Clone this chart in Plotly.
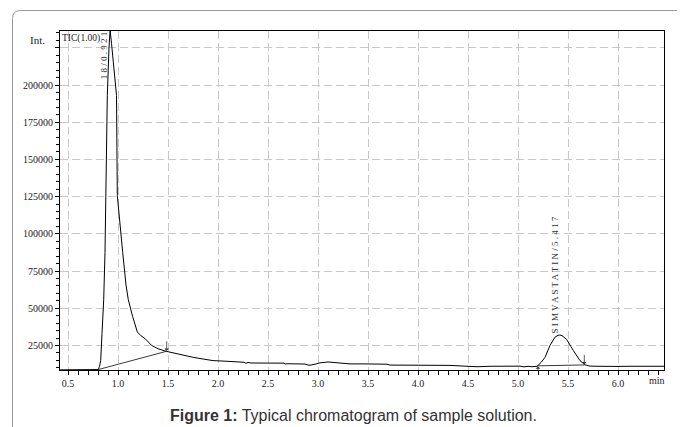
import plotly.graph_objects as go

# ---- data ----
time_min = [0.42, 0.50, 0.60, 0.70, 0.78, 0.803, 0.815, 0.827, 0.84, 0.857, 0.87, 0.88, 0.893,
            0.91, 0.921, 0.935, 0.96, 0.985, 0.993, 1.02, 1.047, 1.08, 1.103, 1.147, 1.193,
            1.23, 1.27, 1.337, 1.40, 1.48, 1.587, 1.70, 1.753, 1.85, 1.95, 2.05, 2.15, 2.22,
            2.26, 2.28, 2.30, 2.33, 2.40, 2.50, 2.60, 2.66, 2.67, 2.69, 2.80, 2.87, 2.90, 2.92,
            2.97, 3.02, 3.10, 3.18, 3.25, 3.32, 3.45, 3.60, 3.69, 3.72, 3.90, 4.10, 4.32, 4.52,
            4.60, 4.72, 4.90, 5.02, 5.06, 5.10, 5.14, 5.19, 5.23, 5.27, 5.32, 5.37, 5.40, 5.417,
            5.44, 5.487, 5.553, 5.62, 5.67, 5.72, 5.80, 5.90, 6.00, 6.10, 6.20, 6.30, 6.46]
intensity = [8600, 8700, 8600, 8700, 8700, 8800, 11000, 14800, 33000, 55700, 87500, 125800, 193000,
             225000, 237000, 228000, 212000, 193000, 125800, 105000, 87500, 65600, 55700, 44300, 34100,
             31500, 29600, 25000, 22800, 21100, 19300, 17700, 17000, 15900, 14800, 14500, 14200, 14100,
             13700, 13000, 13600, 13200, 13200, 13200, 13200, 13100, 12500, 12700, 12600, 12500, 11800, 11700,
             12400, 13300, 13900, 13500, 13000, 12600, 12600, 12500, 12400, 11800, 11700, 11600, 11600, 10900,
             10700, 11000, 11100, 11100, 10600, 11000, 10700, 11000, 13500, 17000, 25000, 30600, 31800, 32000,
             31600, 29000, 21600, 14800, 12000, 11100, 11000, 11200, 10900, 11000, 10900, 11000, 11000]

# integration baselines (start / end of each peak)
base1_t = [0.803, 1.487]
base1_v = [8800, 21100]
base2_t = [5.19, 5.665]
base2_v = [11300, 11900]

# peak labels
peak_labels = ["1 8 / 0 . 9 2 1", "S I M V A S T A T I N / 5 . 4 1 7"]
peak_label_t = [0.86, 5.375]
peak_label_v = [220000, 72300]

x_tickvals = [0.5, 1.0, 1.5, 2.0, 2.5, 3.0, 3.5, 4.0, 4.5, 5.0, 5.5, 6.0]
x_ticktext = ["0.5", "1.0", "1.5", "2.0", "2.5", "3.0", "3.5", "4.0", "4.5", "5.0", "5.5", "6.0"]
y_tickvals = [25000, 50000, 75000, 100000, 125000, 150000, 175000, 200000, 225000]
y_ticktext = ["25000", "50000", "75000", "100000", "125000", "150000", "175000", "200000", ""]

SERIF = "Liberation Serif"

fig = go.Figure()
fig.add_trace(go.Scatter(x=time_min, y=intensity, mode="lines",
                         line=dict(color="black", width=1), hoverinfo="skip"))
fig.add_trace(go.Scatter(x=base1_t, y=base1_v, mode="lines",
                         line=dict(color="#222", width=0.9), hoverinfo="skip"))
fig.add_trace(go.Scatter(x=base2_t, y=base2_v, mode="lines",
                         line=dict(color="#222", width=0.9), hoverinfo="skip"))

# the page body has an 8px margin, so the figure is placed at (8, 8)
OFF = 8
W, H = 685 - OFF, 427 - OFF
L, T = 60 - OFF, 31 - OFF
R = W - (664 - OFF)
B = H - (370 - OFF)
pw, ph = W - L - R, H - T - B

def px_x(p):
    return (p - OFF - L) / pw

def px_y(p):
    return (H - B - (p - OFF)) / ph

annotations = []
# peak labels (rotated)
for txt, t, v in zip(peak_labels, peak_label_t, peak_label_v):
    annotations.append(dict(x=t, y=v, xref="x", yref="y", text=txt, textangle=-90,
                            showarrow=False, font=dict(family=SERIF, size=9, color="#333"),
                            xanchor="center", yanchor="middle"))
# arrows marking peak start/end
annotations.append(dict(x=1.487, y=21400, xref="x", yref="y", ax=0, ay=-11, text="",
                        showarrow=True, arrowhead=1, arrowsize=1, arrowwidth=0.8, arrowcolor="#333"))
annotations.append(dict(x=5.663, y=12300, xref="x", yref="y", ax=0, ay=-11, text="",
                        showarrow=True, arrowhead=1, arrowsize=1, arrowwidth=0.8, arrowcolor="#333"))
annotations.append(dict(x=5.2, y=10900, xref="x", yref="y", ax=0, ay=6, text="",
                        showarrow=True, arrowhead=1, arrowsize=1, arrowwidth=0.8, arrowcolor="#333"))
# texts
annotations.append(dict(x=0.0, y=1.0, xref="paper", yref="paper", text="TIC(1.00)",
                        showarrow=False, xanchor="left", yanchor="top",
                        font=dict(family=SERIF, size=9.5, color="#222")))
annotations.append(dict(x=px_x(37), y=px_y(40), xref="paper", yref="paper", text="Int.",
                        showarrow=False, xanchor="center", yanchor="middle",
                        font=dict(family=SERIF, size=11, color="#222")))
annotations.append(dict(x=px_x(657), y=px_y(380), xref="paper", yref="paper", text="min",
                        showarrow=False, xanchor="center", yanchor="middle",
                        font=dict(family=SERIF, size=10, color="#222")))
annotations.append(dict(x=px_x(353), y=px_y(415), xref="paper", yref="paper",
                        text="<b>Figure 1:</b> Typical chromatogram of sample solution.",
                        showarrow=False, xanchor="center", yanchor="middle",
                        font=dict(family="Liberation Sans", size=16, color="#333")))

# outer rounded frame (top-left corner visible)
lx, ty = px_x(12.5), px_y(10.5)
rx, ry = 8 / pw, 8 / ph
frame_path = (f"M {lx},{px_y(440)} L {lx},{ty - ry} Q {lx},{ty} {lx + rx},{ty} "
              f"L {px_x(700)},{ty}")

fig.update_layout(
    width=W, height=H,
    margin=dict(l=L, r=R, t=T, b=B),
    paper_bgcolor="white", plot_bgcolor="white",
    showlegend=False,
    font=dict(family=SERIF, size=10, color="#222"),
    annotations=annotations,
    shapes=[dict(type="path", path=frame_path, xref="paper", yref="paper",
                 line=dict(color="#9a9a9a", width=1), layer="below")],
    xaxis=dict(range=[0.42, 6.46], tickmode="array", tickvals=x_tickvals, ticktext=x_ticktext,
               showline=True, mirror=True, linecolor="black", linewidth=1,
               ticks="outside", ticklen=4, tickcolor="black",
               showgrid=True, gridcolor="#c8c8c8", griddash="8px,4px", gridwidth=1,
               zeroline=False,
               minor=dict(tickmode="linear", tick0=0, dtick=0.1, ticks="outside",
                          ticklen=4, tickcolor="black", showgrid=False),
               tickfont=dict(family=SERIF, size=10)),
    yaxis=dict(range=[8500, 236300], tickmode="array", tickvals=y_tickvals, ticktext=y_ticktext,
               showline=True, mirror=True, linecolor="black", linewidth=1,
               ticks="outside", ticklen=4, tickcolor="black",
               showgrid=True, gridcolor="#c8c8c8", griddash="8px,4px", gridwidth=1,
               zeroline=False,
               minor=dict(tickmode="linear", tick0=0, dtick=5000, ticks="outside",
                          ticklen=3, tickcolor="black", showgrid=False),
               tickfont=dict(family=SERIF, size=10), ticklabelstandoff=0),
)

fig.write_html("out.html")
